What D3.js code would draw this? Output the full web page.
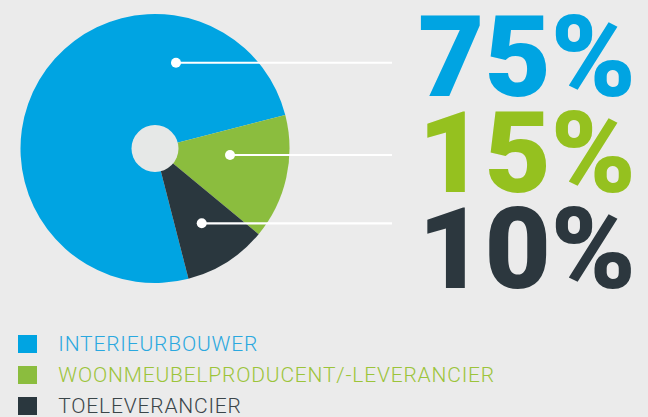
<!DOCTYPE html>
<html><head><meta charset="utf-8">
<script src="https://cdn.jsdelivr.net/npm/d3@7"></script>
<style>
html,body{margin:0;padding:0;background:#ebebeb;}
svg{display:block;}
</style></head>
<body>
<svg id="c" width="648" height="417"></svg>
<script>
const categories = ["INTERIEURBOUWER", "WOONMEUBELPRODUCENT/-LEVERANCIER", "TOELEVERANCIER"];
const values = [75, 15, 10];
const valueLabels = ["75%", "15%", "10%"];
const sliceColors = ["#00a4e2", "#8bbd3e", "#2a373e"];
const textColors = ["#00a4e2", "#95c11f", "#2c373e"];
const legendColors = ["#2aa8df", "#9cc43a", "#3a4549"];

// layout
const W = 648, H = 417;
const cx = 155, cy = 148.5, R = 134.5, innerR = 23.5;
const startDeg = 165.6;
const leaderAngleDeg = [13.75, 94.95, 148];
const leaderRadius = [88.3, 75.3, 88.2];
const leaderEndX = 392;

const svg = d3.select("#c");
svg.append("rect").attr("width", W).attr("height", H).attr("fill", "#ebebeb");

const toRad = d => d * Math.PI / 180;
const pie = d3.pie().sort(null).value(d => d)
  .startAngle(toRad(startDeg)).endAngle(toRad(startDeg) + 2 * Math.PI);
const arc = d3.arc().innerRadius(0).outerRadius(R);

const g = svg.append("g").attr("transform", `translate(${cx},${cy})`);
g.selectAll("path").data(pie(values)).join("path")
  .attr("d", arc).attr("fill", (d, i) => sliceColors[i]);
g.append("circle").attr("r", innerR).attr("fill", "#e6e8e7");

// leaders
values.forEach((v, i) => {
  const a = toRad(leaderAngleDeg[i]);
  const x = cx + leaderRadius[i] * Math.sin(a);
  const y = cy - leaderRadius[i] * Math.cos(a);
  svg.append("line").attr("x1", x).attr("y1", y).attr("x2", leaderEndX).attr("y2", y)
    .attr("stroke", "#ffffff").attr("stroke-width", 2.2);
  svg.append("circle").attr("cx", x).attr("cy", y).attr("r", 5).attr("fill", "#ffffff");
});

// big labels
const bigY = d3.scalePoint().domain(valueLabels).range([96, 288]);
svg.selectAll("text.big").data(valueLabels).join("text")
  .attr("class", "big")
  .attr("x", 636).attr("y", d => bigY(d))
  .attr("text-anchor", "end")
  .attr("font-family", "Roboto, sans-serif")
  .attr("font-weight", 900)
  .attr("font-size", 113)
  .attr("textLength", 218).attr("lengthAdjust", "spacingAndGlyphs")
  .attr("fill", (d, i) => textColors[i])
  .text(d => d);

// legend
const legY = d3.scalePoint().domain(categories).range([335, 397]);
const leg = svg.selectAll("g.leg").data(categories).join("g")
  .attr("class", "leg").attr("transform", d => `translate(18,${legY(d)})`);
leg.append("rect").attr("width", 19).attr("height", 18)
  .attr("fill", (d, i) => sliceColors[i]);
leg.append("text").attr("x", 40.3).attr("y", 16)
  .attr("font-family", "Roboto, sans-serif").attr("font-weight", 300)
  .attr("font-size", 21)
  .attr("letter-spacing", 0.8)
  .attr("fill", (d, i) => legendColors[i])
  .text(d => d);
</script>
</body></html>
